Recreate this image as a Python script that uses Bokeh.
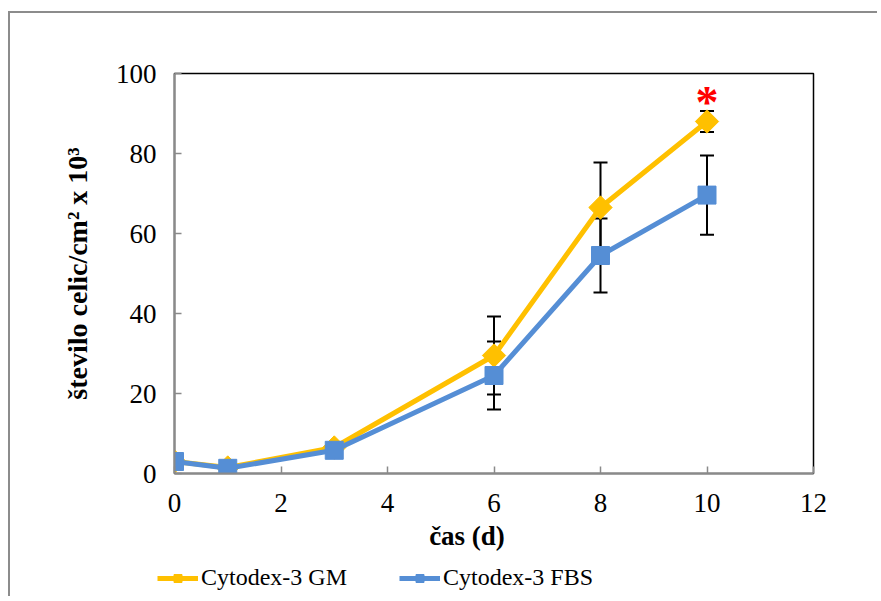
from bokeh.plotting import figure
from bokeh.models import (Range1d, ColumnDataSource, Whisker, TeeHead, Legend, LegendItem,
                          Label, FixedTicker)
from bokeh.embed import file_html
from bokeh.resources import INLINE
import math

# ---- data ----
days = [0, 1, 3, 6, 8, 10]
gm_values = [3.0, 1.5, 6.5, 29.5, 66.5, 88.0]
gm_errors = [0.5, 0.4, 0.6, 9.75, 11.25, 2.6]
fbs_values = [3.0, 1.3, 5.8, 24.5, 54.5, 69.6]
fbs_errors = [0.5, 0.4, 0.6, 8.5, 9.25, 9.9]
x_ticks = [0, 2, 4, 6, 8, 10, 12]
y_ticks = [0, 20, 40, 60, 80, 100]
series_names = ["Cytodex-3 GM", "Cytodex-3 FBS"]
x_title = "čas (d)"
y_title = "število celic/cm² x 10³"
star_day = 10
star_value = 94

GM_COLOR = "#FFC000"
FBS_COLOR = "#558ED5"
FONT = "Liberation Serif"
BORDER = "2px solid #8c8c8c"

W, H = 869, 540
p = figure(width=W, height=H, output_backend="svg", toolbar_location=None,
           x_range=Range1d(0, 12), y_range=Range1d(0, 100),
           min_border_left=164, min_border_right=66, min_border_top=60, min_border_bottom=80)
p.margin = (11, 0, 0, 8)
p.styles = {"border-left": BORDER, "border-top": BORDER}
p.xgrid.visible = False
p.ygrid.visible = False
p.outline_line_color = "black"
p.outline_line_width = 1.5
p.background_fill_color = "white"
p.border_fill_color = "white"

for ax, ticks in ((p.xaxis, x_ticks), (p.yaxis, y_ticks)):
    ax.ticker = FixedTicker(ticks=ticks)
    ax.axis_line_color = "#8a8a8a"
    ax.axis_line_width = 2
    ax.major_tick_line_color = "#8a8a8a"
    ax.major_tick_line_width = 1.5
    ax.major_tick_in = 7
    ax.major_tick_out = 0
    ax.minor_tick_line_color = None
    ax.major_label_text_font = FONT
    ax.major_label_text_font_size = "27px"
    ax.major_label_text_color = "black"
    ax.axis_label_text_font = FONT
    ax.axis_label_text_font_style = "bold"
    ax.axis_label_text_color = "black"

p.yaxis.axis_label_text_font_size = "28px"
p.xaxis.axis_label_text_font_size = "27px"
p.xaxis.major_label_standoff = 20
p.yaxis.major_label_standoff = 18
# trailing no-break spaces shift the visible title left of the plot-area centre, as in the original
p.xaxis.axis_label = x_title + "\u00a0" * 8
p.yaxis.axis_label = y_title
p.xaxis.axis_label_standoff = 6
p.yaxis.axis_label_standoff = 20

# error bars
for vals, errs in ((gm_values, gm_errors), (fbs_values, fbs_errors)):
    src = ColumnDataSource(dict(x=days,
                                upper=[v + e for v, e in zip(vals, errs)],
                                lower=[v - e for v, e in zip(vals, errs)]))
    w = Whisker(source=src, base="x", upper="upper", lower="lower",
                line_color="black", line_width=2, level="underlay",
                upper_head=TeeHead(size=14, line_color="black", line_width=2),
                lower_head=TeeHead(size=14, line_color="black", line_width=2))
    p.add_layout(w)

p.line(days, gm_values, line_color=GM_COLOR, line_width=5)
p.scatter(days, gm_values, marker="square", angle=math.pi / 4, size=16.5,
          fill_color=GM_COLOR, line_color=GM_COLOR)
p.line(days, fbs_values, line_color=FBS_COLOR, line_width=5)
p.scatter(days, fbs_values, marker="square", size=18, fill_color=FBS_COLOR, line_color=FBS_COLOR)

star = Label(x=star_day, y=star_value, text="*", text_color="red", text_font=FONT,
             text_font_size="46px", text_font_style="bold", text_align="center",
             text_baseline="middle", y_offset=-5)
p.add_layout(star)

# legend strip below the chart: a separate root so its frame is not aligned with the chart's
leg = figure(width=W, height=45, output_backend="svg", toolbar_location=None,
             x_axis_location=None, y_axis_location=None,
             x_range=Range1d(0, 1), y_range=Range1d(0, 1),
             min_border=0, outline_line_color=None)
leg.margin = (0, 0, 0, 8)
leg.styles = {"border-left": BORDER}
leg.xgrid.visible = False
leg.ygrid.visible = False
nan = [float("nan")]
l1 = leg.line(nan, nan, line_color=GM_COLOR, line_width=5)
m1 = leg.scatter(nan, nan, marker="square", angle=math.pi / 4, size=10,
                 fill_color=GM_COLOR, line_color=GM_COLOR)
l2 = leg.line(nan, nan, line_color=FBS_COLOR, line_width=5)
m2 = leg.scatter(nan, nan, marker="square", size=14, fill_color=FBS_COLOR, line_color=FBS_COLOR)
legend = Legend(items=[LegendItem(label=series_names[0], renderers=[l1, m1]),
                       LegendItem(label=series_names[1], renderers=[l2, m2])],
                orientation="horizontal", location=(147, 5),
                label_text_font=FONT, label_text_font_size="24px", label_text_color="black",
                glyph_width=41, glyph_height=20, label_height=20, label_standoff=3, spacing=52,
                padding=0, margin=0, border_line_color=None, background_fill_alpha=0)
leg.add_layout(legend, "center")

open("out.html", "w").write(file_html([p, leg], INLINE))
